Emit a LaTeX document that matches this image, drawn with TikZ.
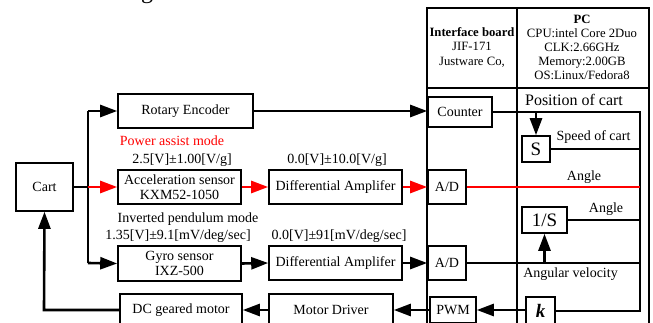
\documentclass[tikz,border=0pt]{standalone}
\usepackage{fontspec}
\setmainfont{Liberation Serif}
\usetikzlibrary{arrows.meta}
\tikzset{
  box/.style={draw, line width=1.6pt, inner sep=0pt, align=center, font=\fontsize{14}{15.5}\selectfont},
  lbl/.style={inner sep=0pt, font=\fontsize{14}{15}\selectfont},
  wire/.style={line width=2.6pt},
  arr/.style={line width=2.6pt, -{Triangle[length=17pt,width=12pt]}},
  rarr/.style={arr, draw=red, -{Triangle[length=17pt,width=12pt,fill=red]}},
  frame/.style={line width=2.4pt},
}
\begin{document}
\begin{tikzpicture}[x=1pt,y=-1pt]
\useasboundingbox (0,0) rectangle (653,323);
\clip (0,0) rectangle (653,323);
\fill[white] (0,0) rectangle (653,323);

% caption fragment
\node[anchor=base, inner sep=0pt, font=\fontsize{24}{24}\selectfont] (frag) at (147,-1) {g};

% frame
\draw[frame] (427,8) rectangle (649,340);
\draw[frame] (517,8) -- (517,340);
\draw[frame] (427,88) -- (649,88);

\node[inner sep=0pt, align=center, font=\fontsize{12.7}{14.5}\selectfont] (ifb) at (472,47.5)
  {\textbf{Interface board}\\JIF-171\\Justware Co,};
\node[inner sep=0pt, align=center, font=\fontsize{12.7}{14}\selectfont] (pc) at (582,47)
  {\textbf{PC}\\CPU:intel Core 2Duo\\CLK:2.66GHz\\Memory:2.00GB\\OS:Linux/Fedora8};

% left blocks
\node[box, minimum width=57pt, minimum height=48pt] (cart) at (44.5,187) {Cart};
\node[box, minimum width=135pt, minimum height=34pt] (enc) at (185.5,111) {Rotary Encoder};
\node[box, minimum width=123pt, minimum height=34pt] (acc) at (179.5,187) {Acceleration sensor\\KXM52-1050};
\node[box, minimum width=133pt, minimum height=34pt] (da1) at (335.5,187) {Differential Amplifer};
\node[box, minimum width=123pt, minimum height=35pt] (gyro) at (179.5,263.5) {Gyro sensor\\IXZ-500};
\node[box, minimum width=133pt, minimum height=34pt] (da2) at (335.5,263) {Differential Amplifer};
\node[box, minimum width=122pt, minimum height=32pt] (dcm) at (181,310) {DC geared motor};
\node[box, minimum width=124pt, minimum height=32pt] (drv) at (331,310) {Motor Driver};

% interface blocks
\node[box, minimum width=64pt, minimum height=30pt] (cnt) at (460,112) {Counter};
\node[box, minimum width=38pt, minimum height=34pt] (ad1) at (447,187) {A/D};
\node[box, minimum width=38pt, minimum height=34pt] (ad2) at (447,263) {A/D};
\node[box, minimum width=46pt, minimum height=26pt] (pwm) at (453,310) {PWM};

% PC blocks
\node[box, minimum width=28pt, minimum height=26pt, font=\fontsize{19}{19}\selectfont] (s) at (536,149) {S};
\node[box, minimum width=45pt, minimum height=26pt, font=\fontsize{19}{19}\selectfont] (is) at (544.5,220) {1/S};
\node[box, minimum width=29pt, minimum height=28pt, font=\fontsize{19}{19}\selectfont\bfseries\itshape] (k) at (540.5,311) {k};

% labels
\node[lbl, text=red] (pam) at (172,141) {Power assist mode};
\node[lbl] (l1) at (182,160) {2.5[V]±1.00[V/g]};
\node[lbl] (l2) at (337,160) {0.0[V]±10.0[V/g]};
\node[lbl] (ipm) at (188,219) {Inverted pendulum mode};
\node[lbl] (l3) at (178,236) {1.35[V]±9.1[mV/deg/sec]};
\node[lbl] (l4) at (339,236) {0.0[V]±91[mV/deg/sec]};
\node[lbl, font=\fontsize{16}{16}\selectfont] (poc) at (574,100) {Position of cart};
\node[lbl] (soc) at (593.5,137) {Speed of cart};
\node[lbl] (ang1) at (584,177) {Angle};
\node[lbl] (ang2) at (606,209) {Angle};
\node[lbl] (angv) at (570.5,274) {Angular velocity};

% coordinates
\coordinate (j1) at (88,111);
\coordinate (j2) at (88,187);
\coordinate (j3) at (88,263);
\coordinate (c1) at (640,112);
\coordinate (c2) at (640,311);
\coordinate (ps) at (536,112);
\coordinate (b1) at (640,149);
\coordinate (b2) at (640,187);
\coordinate (b3) at (640,220);
\coordinate (b4) at (640,263);
\coordinate (av) at (544.5,263);
\coordinate (m1) at (44,310);

% connectors
\draw[wire] (cart.east) -- (j2);
\draw[wire] (j1) -- (j3);
\draw[arr] (j1) -- (enc.west);
\draw[rarr] (j2) -- (acc.west);
\draw[arr] (j3) -- (gyro.west);
\draw[rarr] (acc.east) -- (da1.west);
\draw[rarr] (da1.east) -- (ad1.west);
\draw[arr] (gyro.east) -- (da2.west);
\draw[arr] (da2.east) -- (ad2.west);
\draw[arr] (enc.east) -- (enc.east -| cnt.west);
\draw[wire] (cnt.east |- c1) -- (c1) -- (c2) -- (k.east |- c2);
\draw[arr] (ps) -- (s.north);
\draw[wire] (s.east) -- (b1);
\draw[wire, draw=red] (ad1.east) -- (b2);
\draw[wire] (is.east) -- (b3);
\draw[wire] (ad2.east) -- (b4);
\draw[arr] (av) -- (is.south);
\draw[arr] (k.west |- pwm.east) -- (pwm.east);
\draw[arr] (pwm.west) -- (drv.east);
\draw[arr] (drv.west) -- (dcm.east);
\draw[arr] (dcm.west) -- (m1) -- (cart.south);
\end{tikzpicture}
\end{document}
